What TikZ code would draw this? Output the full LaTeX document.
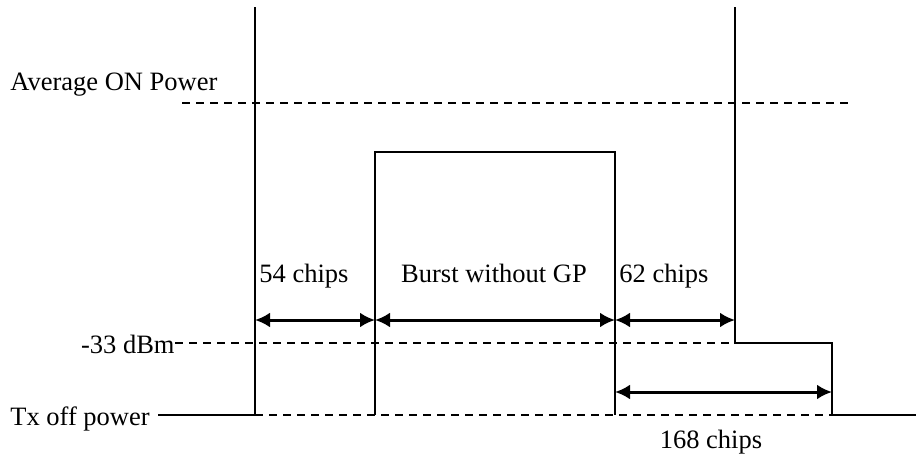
\documentclass[tikz,border=0pt]{standalone}
\usepackage{fontspec}
\setmainfont{Liberation Serif}
\usepackage{tikz}
\usetikzlibrary{arrows.meta}
\usetikzlibrary{calc}
\usetikzlibrary{positioning}
\tikzset{>=latex}

\begin{document}
\begin{tikzpicture}[
        x=0.5pt, y=-0.5pt,
        signal/.style={line width=1pt, line join=miter},
        level/.style={line width=1pt, dash pattern=on 4pt off 3pt},
        span/.style={line width=1.5pt, {Latex[length=7.5pt,width=7.5pt]}-{Latex[length=7.5pt,width=7.5pt]}},
        lbl/.style={inner sep=0pt, font=\fontsize{13.25}{16}\selectfont}
    ]

    \useasboundingbox (0,0) rectangle (916,455);

    %=== Time marks and power levels ===%
    \def\tA{255}
    \def\tB{375}
    \def\tC{615}
    \def\tD{735}
    \def\tE{832}
    \def\yOn{103}
    \def\yBurst{152}
    \def\yDim{320}
    \def\yMin{343}
    \def\yLong{392}
    \def\yOff{415}

    % Level labels
    \node[lbl, anchor=base west] (avg) at (10,90) {Average ON Power};
    \node[lbl, anchor=base east] (dbm) at (175,353) {-33 dBm};
    \node[lbl, anchor=base west] (txoff) at (10,425) {Tx off power};

    % Top ends of the edges
    \coordinate (riseTop) at (\tA,7);
    \coordinate (fallTop) at (\tD,7);

    %=== Reference levels ===%
    \draw[level] (182,\yOn) -- (849,\yOn);
    \draw[level] (175,\yMin) -- (\tD,\yMin);
    \draw[level] (\tA,\yOff) -- (\tE,\yOff);

    %=== Signal ===%
    \draw[signal] (158,\yOff) -- (\tA,\yOff) -- (riseTop);
    \draw[signal] (\tB,\yOff) -- (\tB,\yBurst) -- (\tC,\yBurst) -- (\tC,\yOff);
    \draw[signal] (fallTop) -- (\tD,\yMin) -- (\tE,\yMin) -- (\tE,\yOff) -- (916,\yOff);

    %=== Durations ===%
    \coordinate (d1) at (\tA,\yDim);
    \coordinate (d2) at (\tB,\yDim);
    \coordinate (d3) at (\tC,\yDim);
    \coordinate (d4) at (\tD,\yDim);
    \coordinate (l1) at (\tC,\yLong);
    \coordinate (l2) at (\tE,\yLong);

    \draw[span] (d1) -- (d2);
    \draw[span] (d2) -- (d3);
    \draw[span] (d3) -- (d4);
    \draw[span] (l1) -- (l2);

    \node[lbl, anchor=base west] (pre) at (259,282) {54 chips};
    \node[lbl, anchor=base] (burst) at (494,282) {Burst without GP};
    \node[lbl, anchor=base west] (post) at (619,282) {62 chips};
    \node[lbl, anchor=base] (tail) at (711,448) {168 chips};
\end{tikzpicture}
\end{document}
